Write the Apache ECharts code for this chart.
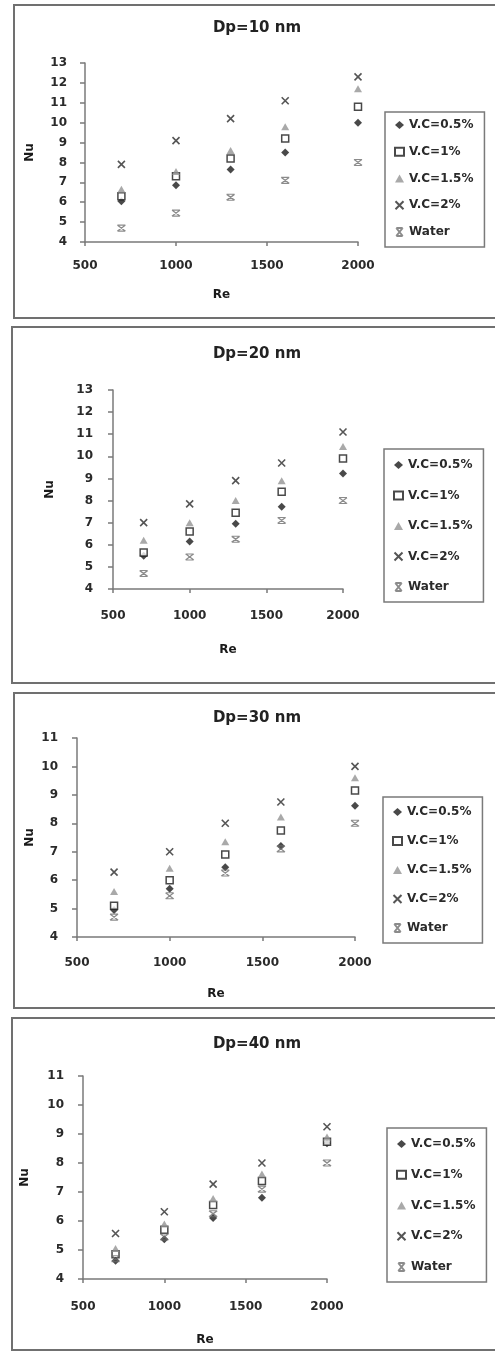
<!DOCTYPE html>
<html>
<head>
<meta charset="utf-8">
<script src="https://cdn.jsdelivr.net/npm/echarts@6/dist/echarts.min.js"></script>
<style>
  html, body { margin: 0; padding: 0; background: #ffffff; }
  #chart { width: 495px; height: 1351px; }
</style>
</head>
<body>
<div id="chart"></div>
<script>
// Reynolds numbers tested and series shared by all four panels
const reynolds = [700, 1000, 1300, 1600, 2000];
const seriesNames = ['V.C=0.5%', 'V.C=1%', 'V.C=1.5%', 'V.C=2%', 'Water'];
const panelTitles = ['Dp=10 nm', 'Dp=20 nm', 'Dp=30 nm', 'Dp=40 nm'];

// Axis ranges
const reMin = 500, reMax = 2000, reStep = 500;
const nuMin = 4;
const nuMax = [13, 13, 11, 11];

// Nusselt number of the base fluid
const water = [4.7, 5.45, 6.25, 7.1, 8.0];

// Dp = 10 nm
const dp10Vc05 = [6.05, 6.85, 7.65, 8.5, 10.0];
const dp10Vc1  = [6.3, 7.3, 8.2, 9.2, 10.8];
const dp10Vc15 = [6.65, 7.55, 8.6, 9.8, 11.7];
const dp10Vc2  = [7.9, 9.1, 10.2, 11.1, 12.3];

// Dp = 20 nm
const dp20Vc05 = [5.5, 6.15, 6.95, 7.72, 9.22];
const dp20Vc1  = [5.65, 6.6, 7.45, 8.4, 9.9];
const dp20Vc15 = [6.2, 7.0, 8.0, 8.9, 10.45];
const dp20Vc2  = [7.0, 7.85, 8.9, 9.7, 11.1];

// Dp = 30 nm
const dp30Vc05 = [4.95, 5.7, 6.45, 7.2, 8.62];
const dp30Vc1  = [5.1, 6.0, 6.9, 7.75, 9.15];
const dp30Vc15 = [5.6, 6.42, 7.35, 8.22, 9.6];
const dp30Vc2  = [6.28, 7.0, 8.0, 8.75, 10.0];

// Dp = 40 nm
const dp40Vc05 = [4.63, 5.37, 6.1, 6.8, 8.68];
const dp40Vc1  = [4.85, 5.7, 6.55, 7.38, 8.73];
const dp40Vc15 = [5.05, 5.9, 6.78, 7.62, 8.9];
const dp40Vc2  = [5.57, 6.32, 7.27, 8.0, 9.25];

const panelData = [
  [dp10Vc05, dp10Vc1, dp10Vc15, dp10Vc2, water],
  [dp20Vc05, dp20Vc1, dp20Vc15, dp20Vc2, water],
  [dp30Vc05, dp30Vc1, dp30Vc15, dp30Vc2, water],
  [dp40Vc05, dp40Vc1, dp40Vc15, dp40Vc2, water]
];

// Placement of each panel on the page
const layout = [
  { grid: { left: 85, top: 63, width: 273, height: 179 }, titleTop: 21,
    legend: { left: 385, top: 112, itemGap: 12.75, padding: [6, 11, 8, 9] },
    frame: { x: 14, y: 5, h: 313 }, xNameGap: 47, yNameGap: 49, xMargin: 18, yMargin: 18 },
  { grid: { left: 113, top: 390, width: 230, height: 199 }, titleTop: 347,
    legend: { left: 384, top: 449, itemGap: 16.5, padding: [9, 11, 8, 9] },
    frame: { x: 12, y: 327, h: 356 }, xNameGap: 55, yNameGap: 57, xMargin: 21, yMargin: 20 },
  { grid: { left: 77, top: 738, width: 278, height: 199 }, titleTop: 711,
    legend: { left: 383, top: 797, itemGap: 15, padding: [8, 11, 8, 9] },
    frame: { x: 14, y: 693, h: 315 }, xNameGap: 51, yNameGap: 41, xMargin: 20, yMargin: 19 },
  { grid: { left: 83, top: 1076, width: 244, height: 203 }, titleTop: 1037,
    legend: { left: 387, top: 1128, itemGap: 16.75, padding: [9, 11, 8, 9] },
    frame: { x: 12, y: 1018, h: 332 }, xNameGap: 55, yNameGap: 52, xMargin: 22, yMargin: 19 }
];

// Marker look of each series (same order as seriesNames)
const markers = [
  { symbol: 'diamond', symbolSize: 8, itemStyle: { color: '#1c1c1c' } },
  { symbol: 'rect', symbolSize: 7, itemStyle: { color: '#ffffff', borderColor: '#1c1c1c', borderWidth: 1.5 } },
  { symbol: 'triangle', symbolSize: [8, 7], itemStyle: { color: '#939393' } },
  { symbol: 'path://M0,0L10,10M10,0L0,10', symbolSize: 7,
    itemStyle: { color: 'transparent', borderColor: '#2a2a2a', borderWidth: 1.6 } },
  { symbol: 'path://M1,0L9,0M1,10L9,10M1,0L9,10M9,0L1,10', symbolSize: [8, 6],
    itemStyle: { color: 'transparent', borderColor: '#6e6e6e', borderWidth: 1.3 } }
];

const FONT = 'DejaVu Sans';
const axisColor = '#7a7a7a';

const option = {
  animation: false,
  backgroundColor: '#ffffff',
  title: [], grid: [], xAxis: [], yAxis: [], legend: [], series: [],
  graphic: []
};

layout.forEach((p, i) => {
  option.graphic.push({
    type: 'rect', silent: true, z: -10,
    shape: { x: p.frame.x, y: p.frame.y, width: 500, height: p.frame.h },
    style: { fill: 'none', stroke: '#707070', lineWidth: 2 }
  });
  option.title.push({
    text: panelTitles[i], left: 257, top: p.titleTop, textAlign: 'center', padding: 0,
    textStyle: { fontFamily: FONT, fontSize: 15, fontWeight: 'bold', color: '#222222' }
  });
  option.grid.push(Object.assign({ containLabel: false }, p.grid));
  option.xAxis.push({
    type: 'value', gridIndex: i, min: reMin, max: reMax, interval: reStep,
    name: 'Re', nameLocation: 'middle', nameGap: p.xNameGap, nameMoveOverlap: false,
    nameTextStyle: { fontFamily: FONT, fontSize: 12, fontWeight: 'bold', color: '#1a1a1a' },
    axisLine: { show: true, onZero: false, lineStyle: { color: axisColor, width: 1.5 } },
    axisTick: { show: true, inside: false, length: 4, lineStyle: { color: axisColor, width: 1.5 } },
    axisLabel: { margin: p.xMargin, fontFamily: FONT, fontSize: 12, fontWeight: 'bold', color: '#2a2a2a',
      formatter: (v) => String(v) },
    splitLine: { show: false }
  });
  option.yAxis.push({
    type: 'value', gridIndex: i, min: nuMin, max: nuMax[i], interval: 1,
    name: 'Nu', nameLocation: 'middle', nameGap: p.yNameGap, nameRotate: 90, nameMoveOverlap: false,
    nameTextStyle: { fontFamily: FONT, fontSize: 12, fontWeight: 'bold', color: '#1a1a1a' },
    axisLine: { show: true, onZero: false, lineStyle: { color: axisColor, width: 1.5 } },
    axisTick: { show: true, inside: false, length: 5, lineStyle: { color: axisColor, width: 1.5 } },
    axisLabel: { margin: p.yMargin, fontFamily: FONT, fontSize: 12, fontWeight: 'bold', color: '#2a2a2a' },
    splitLine: { show: false }
  });
  option.legend.push({
    orient: 'vertical', left: p.legend.left, top: p.legend.top,
    padding: p.legend.padding,
    itemWidth: 9, itemHeight: 8, itemGap: p.legend.itemGap,
    borderColor: '#7a7a7a', borderWidth: 1.5, selectedMode: false,
    data: seriesNames,
    textStyle: { fontFamily: FONT, fontSize: 12, fontWeight: 'bold', color: '#2a2a2a', lineHeight: 14 }
  });
  panelData[i].forEach((values, s) => {
    option.series.push(Object.assign({
      type: 'scatter', name: seriesNames[s], xAxisIndex: i, yAxisIndex: i,
      data: reynolds.map((re, k) => [re, values[k]]),
      emphasis: { disabled: true }
    }, markers[s]));
  });
});

const chart = echarts.init(document.getElementById('chart'), null, { renderer: 'canvas' });
chart.setOption(option);
</script>
</body>
</html>
